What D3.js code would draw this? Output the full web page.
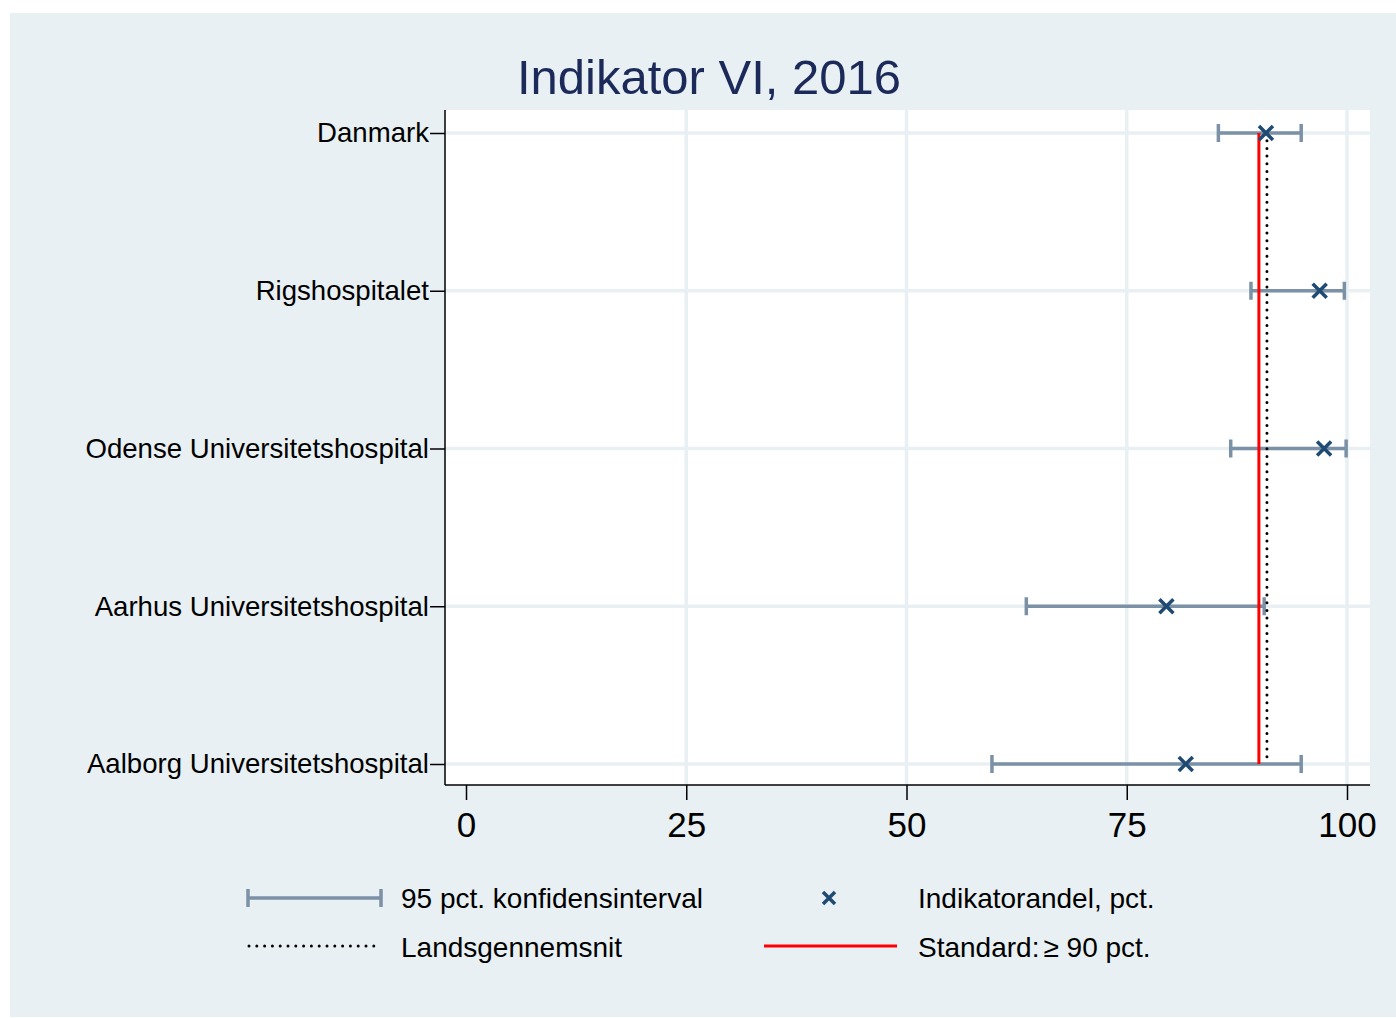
<!DOCTYPE html>
<html><head><meta charset="utf-8">
<script src="https://cdn.jsdelivr.net/npm/d3@7"></script>
<style>body{margin:0;background:#fff}svg{display:block;font-family:"Liberation Sans",Arial,sans-serif}</style>
</head><body><svg id="c" width="1396" height="1018"></svg>
<script>
const categories = ["Danmark","Rigshospitalet","Odense Universitetshospital","Aarhus Universitetshospital","Aalborg Universitetshospital"];
const estimate = [90.8, 96.9, 97.4, 79.5, 81.7];
const ciLow = [85.4, 89.1, 86.8, 63.6, 59.7];
const ciHigh = [94.8, 99.7, 99.9, 90.6, 94.8];
const nationalAverage = 90.8;
const standard = 90;
const xTicks = [0, 25, 50, 75, 100];
const legendLabels = ["95 pct. konfidensinterval","Indikatorandel, pct.","Landsgennemsnit","Standard:"," 90 pct."];

const svg = d3.select("#c");
const bg = "#e8f0f3", ciCol = "#7b91a6", mk = "#1f4a72";
svg.append("rect").attr("x",10).attr("y",13).attr("width",1386).attr("height",1004).attr("fill",bg);
const L=445,R=1370,T=110,B=785;
svg.append("rect").attr("x",L).attr("y",T).attr("width",R-L).attr("height",B-T).attr("fill","#fff");
const x = d3.scaleLinear().domain([0,100]).range([466,1347]);
const y = d3.scalePoint().domain(categories).range([133,764]);

// grid
svg.append("g").selectAll("line").data(xTicks.filter(d=>d>0)).join("line")
  .attr("x1",d=>x(d)).attr("x2",d=>x(d)).attr("y1",T).attr("y2",B)
  .attr("stroke",bg).attr("stroke-width",3.5);
svg.append("g").selectAll("line").data(categories).join("line")
  .attr("x1",L).attr("x2",R).attr("y1",d=>y(d)).attr("y2",d=>y(d))
  .attr("stroke",bg).attr("stroke-width",3.5);

// axes
const xa = svg.append("g").attr("transform",`translate(0,${B})`)
  .call(d3.axisBottom(x).tickValues(xTicks).tickSize(15).tickPadding(12).tickFormat(d3.format("d")));
xa.select(".domain").attr("d",`M${L},0H${R}`).attr("stroke","#000").attr("stroke-width",1.5);
xa.selectAll(".tick line").attr("stroke","#000").attr("stroke-width",1.5);
xa.selectAll("text").attr("font-size",35).attr("fill","#000").attr("font-family","Liberation Sans, Arial, sans-serif");
const ya = svg.append("g").attr("transform",`translate(${L},0)`)
  .call(d3.axisLeft(y).tickSize(15).tickPadding(1));
ya.select(".domain").attr("d",`M0,${T}V${B}`).attr("stroke","#000").attr("stroke-width",1.5);
ya.selectAll(".tick line").attr("stroke","#000").attr("stroke-width",1.5);
ya.selectAll("text").attr("font-size",27.6).attr("fill","#000").attr("font-family","Liberation Sans, Arial, sans-serif");

// CI
const g = svg.append("g");
categories.forEach((c,i)=>{
  const yy=y(c);
  g.append("line").attr("x1",x(ciLow[i])).attr("x2",x(ciHigh[i])).attr("y1",yy).attr("y2",yy).attr("stroke",ciCol).attr("stroke-width",3.5);
  [ciLow[i],ciHigh[i]].forEach(v=>g.append("line").attr("x1",x(v)).attr("x2",x(v)).attr("y1",yy-9).attr("y2",yy+9).attr("stroke",ciCol).attr("stroke-width",3.5));
});
// reference lines
svg.append("line").attr("x1",x(standard)).attr("x2",x(standard)).attr("y1",y(categories[0])).attr("y2",y(categories[4])).attr("stroke","#ff0000").attr("stroke-width",3);
svg.append("line").attr("x1",x(nationalAverage)+1).attr("x2",x(nationalAverage)+1).attr("y1",y(categories[0])).attr("y2",y(categories[4])).attr("stroke","#000").attr("stroke-width",3).attr("stroke-dasharray","0 7.7").attr("stroke-linecap","round");
// markers
const xm = (gg,cx,cy,s)=>gg.append("path").attr("d",`M${cx-s},${cy-s}L${cx+s},${cy+s}M${cx-s},${cy+s}L${cx+s},${cy-s}`).attr("stroke",mk).attr("stroke-width",3.5);
categories.forEach((c,i)=>xm(svg,x(estimate[i]),y(c),7));

// title
svg.append("text").attr("x",709).attr("y",94).attr("text-anchor","middle").attr("font-size",49).attr("fill","#1c2a5a").text("Indikator VI, 2016");

// legend
const lg = svg.append("g").attr("font-size",28).attr("fill","#000");
lg.append("line").attr("x1",248).attr("x2",381).attr("y1",898).attr("y2",898).attr("stroke",ciCol).attr("stroke-width",3.5);
[248,381].forEach(v=>lg.append("line").attr("x1",v).attr("x2",v).attr("y1",889).attr("y2",907).attr("stroke",ciCol).attr("stroke-width",3.5));
lg.append("text").attr("x",401).attr("y",908).text(legendLabels[0]);
xm(lg,829,898,6);
lg.append("text").attr("x",918).attr("y",908).text(legendLabels[1]);
lg.append("line").attr("x1",249).attr("x2",381).attr("y1",946).attr("y2",946).attr("stroke","#000").attr("stroke-width",3).attr("stroke-dasharray","0 7.8").attr("stroke-linecap","round");
lg.append("text").attr("x",401).attr("y",957).text(legendLabels[2]);
lg.append("line").attr("x1",764).attr("x2",897).attr("y1",946).attr("y2",946).attr("stroke","#ff0000").attr("stroke-width",3);
const st = lg.append("text").attr("x",918).attr("y",957);
st.append("tspan").text(legendLabels[3]);
st.append("tspan").attr("dx",4).text("\u2265");
st.append("tspan").text(legendLabels[4]);
</script></body></html>
